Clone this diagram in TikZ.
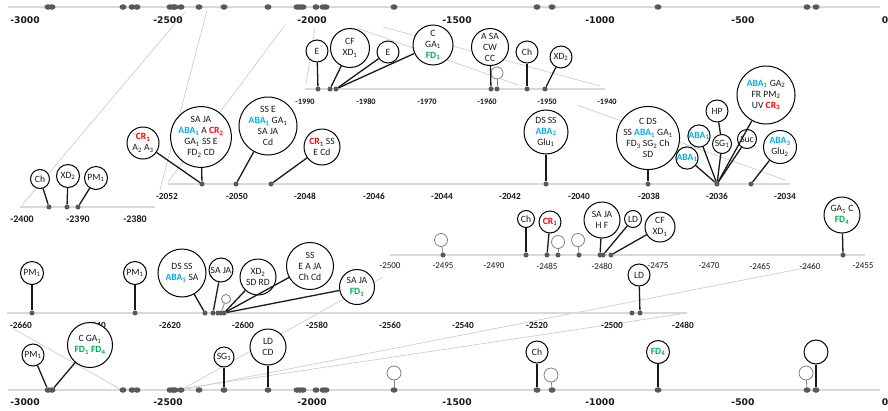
\documentclass[tikz,border=0pt]{standalone}
\usepackage{fontspec}
\setmainfont{Carlito}
\newfontfamily\axfont{DejaVu Sans}
\definecolor{abac}{HTML}{00B0F0}
\definecolor{crc}{HTML}{FF0000}
\definecolor{fdc}{HTML}{00B050}
\definecolor{axc}{HTML}{D9D9D9}
\definecolor{dotc}{HTML}{595959}
\definecolor{zc}{HTML}{C8C8C8}
\newcommand\ls[1]{\textsubscript{#1}}
\newcommand\Ab[1]{\textcolor{abac}{\bfseries ABA\textsubscript{#1}}}
\newcommand\Cr[1]{\textcolor{crc}{\bfseries CR\textsubscript{#1}}}
\newcommand\Fd[1]{\textcolor{fdc}{\bfseries FD\textsubscript{#1}}}
\tikzset{
  bub/.style={circle, draw=black, line width=1pt, fill=white, inner sep=0pt, align=center,
     font=\fontsize{9.6}{11}\selectfont, text=black!90, minimum size=#1*2pt},
  gbub/.style={circle, draw=black!50, line width=0.8pt, fill=white, inner sep=0pt, minimum size=#1*2pt},
  dotn/.style={circle, fill=dotc, inner sep=0pt, minimum size=5pt},
  dotbig/.style={ellipse, fill=dotc, inner sep=0pt, minimum width=7pt, minimum height=5.5pt},
  stem/.style={line width=1.3pt, black!90},
  gstem/.style={line width=0.8pt, black!50},
  axl/.style={draw=axc, line width=1.8pt},
  zl/.style={draw=zc, line width=0.6pt},
  tkA/.style={font=\axfont\fontsize{9.2}{10}\selectfont\bfseries, text=black!90},
  tkB/.style={font=\fontsize{8.3}{10}\selectfont\bfseries, text=black!90},
  tkC/.style={font=\fontsize{10}{12}\selectfont\bfseries, text=black!90},
  tkD/.style={font=\fontsize{9.3}{11}\selectfont\bfseries, text=black!90},
  tkF/.style={font=\fontsize{9}{11}\selectfont, text=black!90},
}
\usetikzlibrary{shapes.geometric}
\begin{document}
\begin{tikzpicture}[x=1pt,y=-1pt]
\fill[white] (0,0) rectangle (888,410);
\useasboundingbox (0,0) rectangle (888,410);
% ---------- zoom lines ----------
\coordinate (zc1a) at (185,12); \coordinate (zc1b) at (22,205);
\coordinate (zc2a) at (207,10); \coordinate (zc2b) at (160,190);
\coordinate (zd1a) at (285,25); \coordinate (zd1b) at (168,182);
\coordinate (zd2a) at (357,28); \coordinate (zd2b) at (518,85);
\coordinate (zd3a) at (577,105); \coordinate (zd3b) at (785,180);
\coordinate (zb1a) at (315,28); \coordinate (zb1b) at (306,84);
\coordinate (zb2a) at (383,27); \coordinate (zb2b) at (600,86);
\coordinate (zg1a) at (12,328); \coordinate (zg1b) at (120,389);
\coordinate (zg2a) at (173,390); \coordinate (zg2b) at (687,313);
\coordinate (zf1a) at (181,390); \coordinate (zf1b) at (383,277);
\coordinate (zf2a) at (181,390); \coordinate (zf2b) at (815,266);
\foreach \n in {zc1,zc2,zd1,zd2,zd3,zb1,zb2,zg1,zg2,zf1,zf2} \draw[zl] (\n a) -- (\n b);
% ---------- axes ----------
\coordinate (axA1) at (8,7);   \coordinate (axA2) at (880,7);
\coordinate (axE1) at (8,390); \coordinate (axE2) at (880,390);
\coordinate (axB1) at (305,89); \coordinate (axB2) at (605,89);
\coordinate (axC1) at (20,207); \coordinate (axC2) at (155,207);
\coordinate (axD1) at (168,184); \coordinate (axD2) at (790,184);
\coordinate (axF1) at (390,255); \coordinate (axF2) at (865,255);
\coordinate (axG1) at (7,313); \coordinate (axG2) at (687,313);
\foreach \n in {A,E,B,C,D,F,G} \draw[axl] (ax\n1) -- (ax\n2);
% ---------- tick labels ----------
\foreach \x/\t in {25/-3000,168/-2500,312/-2000,457/-1500,600/-1000,743/-500,885/0}{
  \node[tkA] (lA\x) at (\x,20) {\t};
  \node[tkA] (lE\x) at (\x,402) {\t};}
\foreach \x/\t in {305/-1990,366/-1980,427/-1970,487/-1960,547/-1950,607/-1940}
  \node[tkB] (lB\x) at (\x,102) {\t};
\foreach \x/\t in {22/-2400,78/-2390,135/-2380}
  \node[tkC] (lC\x) at (\x,219) {\t};
\foreach \x/\t in {167/-2052,237/-2050,305/-2048,374/-2046,442/-2044,510/-2042,579/-2040,649/-2038,717/-2036,785/-2034}
  \node[tkD] (lD\x) at (\x,196) {\t};
\foreach \x/\t in {390/-2500,443/-2495,494/-2490,547/-2485,602/-2480,658/-2475,709/-2470,760/-2465,810/-2460,863/-2455}
  \node[tkF] (lF\x) at (\x,266) {\t};
\foreach \x/\t in {21/-2660,95/-2640,170/-2620,243/-2600,317/-2580,390/-2560,463/-2540,537/-2520,612/-2500,683/-2480}
  \node[tkD] (lG\x) at (\x,325) {\t};
% ---------- dots ----------
\foreach \x in {48,52,123,132,137,170,173,175,181,199,224,268,297,300,303,316,323,326,394,537,552,658,807,816}{
  \node[dotbig] (dA\x) at (\x,7) {};
  \node[dotbig] (dE\x) at (\x,390) {};}
\foreach \x in {318,330,336,491,497,527,545} \node[dotn] (dB\x) at (\x,89) {};
\foreach \x in {49,67,78} \node[dotn] (dC\x) at (\x,207) {};
\foreach \x in {202,236,271,546,648,717,751} \node[dotn] (dD\x) at (\x,184) {};
\foreach \x in {443,526,547,558,579,600,603,611,843} \node[dotn] (dF\x) at (\x,255) {};
\foreach \x in {32,135,205,213,218,221,224,632,640} \node[dotn] (dG\x) at (\x,313) {};
% ---------- panel B ----------
\node[bub=11] (b1) at (317,51) {E};
\node[bub=19.5] (b2) at (350,48) {CF\\XD\ls{1}};
\node[bub=11] (b3) at (388,52) {E};
\node[bub=20] (b4) at (433,45) {C\\GA\ls{1}\\\Fd{1}};
\node[bub=18.5] (b5) at (490,47) {A SA\\CW\\CC};
\node[gbub=6] (b6) at (497,73) {};
\node[bub=11] (b7) at (527,52) {Ch};
\node[bub=11] (b8) at (561,57) {XD\ls{2}};
\draw[stem] (b1) -- (dB318); \draw[stem] (b2) -- (dB330);
\draw[stem] (b3) -- (dB336); \draw[stem] (b4) -- (dB336);
\draw[stem] (b5) -- (dB491); \draw[gstem] (b6) -- (dB497);
\draw[stem] (b7) -- (dB527); \draw[stem] (b8) -- (dB545);
% ---------- panel C ----------
\node[bub=9.5] (c1) at (40,179) {Ch};
\node[bub=11.5] (c2) at (68,176) {XD\ls{2}};
\node[bub=11.5] (c3) at (96,178) {PM\ls{1}};
\draw[stem] (c1) -- (dC49); \draw[stem] (c2) -- (dC67); \draw[stem] (c3) -- (dC78);
% ---------- panel D ----------
\node[bub=16] (d1) at (143,143) {\Cr{1}\\A\ls{2} A\ls{3}};
\node[bub=30] (d2) at (201,137) {SA JA\\\Ab{1} A \Cr{2}\\GA\ls{1} SS E\\FD\ls{2} CD};
\node[bub=29] (d3) at (268,126) {SS E\\\Ab{1} GA\ls{1}\\SA JA\\Cd};
\node[bub=18] (d4) at (322,147) {\Cr{1} SS\\E Cd};
\node[bub=22] (d5) at (546,132) {DS SS\\\Ab{2}\\Glu\ls{1}};
\node[bub=31] (d6) at (648,138) {C DS\\SS \Ab{1} GA\ls{1}\\FD\ls{3} SG\ls{2} Ch\\SD};
\node[bub=11] (d7) at (687,158) {\Ab{1}};
\node[bub=11] (d8) at (699,136) {\Ab{1}};
\node[bub=11] (d9) at (717,111) {HP};
\node[bub=9.5] (d10) at (722,144) {SG\ls{1}};
\node[bub=9.5] (d11) at (747,139) {Suc};
\node[bub=29] (d12) at (766,95) {\Ab{1} GA\ls{2}\\FR PM\ls{2}\\UV \Cr{3}};
\node[bub=16.5] (d13) at (780,147) {\Ab{3}\\Glu\ls{2}};
\draw[stem] (d1) -- (dD202); \draw[stem] (d2) -- (dD202);
\draw[stem] (d3) -- (dD236); \draw[stem] (d4) -- (dD271);
\draw[stem] (d5) -- (dD546); \draw[stem] (d6) -- (dD648);
\draw[stem] (d7) -- (dD717); \draw[stem] (d8) -- (dD717);
\draw[stem] (d9) -- (d10); \draw[stem] (d10) -- (dD717);
\draw[stem] (d11) -- (dD717); \draw[stem] (d12) -- (dD717);
\draw[stem] (d13) -- (dD751);
% ---------- panel F ----------
\node[gbub=6.5] (f1) at (441,240) {};
\node[bub=8.5] (f2) at (526,219) {Ch};
\node[bub=11] (f3) at (550,222) {\Cr{1}};
\node[gbub=6.5] (f4) at (558,242) {};
\node[gbub=6.5] (f5) at (578,240) {};
\node[bub=18] (f6) at (602,220) {SA JA\\H F};
\node[bub=8.5] (f7) at (633,219) {LD};
\node[bub=15] (f8) at (660,227) {CF\\XD\ls{1}};
\node[bub=18] (f9) at (842,215) {GA\ls{1} C\\\Fd{4}};
\draw[gstem] (f1) -- (dF443); \draw[stem] (f2) -- (dF526);
\draw[stem] (f3) -- (dF547); \draw[gstem] (f4) -- (dF558);
\draw[gstem] (f5) -- (dF579); \draw[stem] (f6) -- (dF600);
\draw[stem] (f7) -- (dF603); \draw[stem] (f8) -- (dF611);
\draw[stem] (f9) -- (dF843);
% ---------- panel G ----------
\node[bub=11.5] (g1) at (32,273) {PM\ls{1}};
\node[bub=11.5] (g2) at (135,273) {PM\ls{1}};
\node[bub=24] (g3) at (182,273) {DS SS\\\Ab{1} SA};
\node[bub=12] (g4) at (221,270) {SA JA};
\node[gbub=4.5] (g5) at (226,299) {};
\node[bub=18] (g6) at (258,277) {XD\ls{2}\\SD RD};
\node[bub=23.5] (g7) at (310,266) {SS\\E A JA\\Ch Cd};
\node[bub=17.5] (g8) at (357,287) {SA JA\\\Fd{1}};
\node[bub=11] (g9) at (639,275) {LD};
\draw[stem] (g1) -- (dG32); \draw[stem] (g2) -- (dG135);
\draw[stem] (g3) -- (dG205); \draw[stem] (g4) -- (dG213);
\draw[gstem] (g5) -- (dG221); \draw[stem] (g6) -- (dG224);
\draw[stem] (g7) -- (dG224); \draw[stem] (g8) -- (dG224);
\draw[stem] (g9) -- (dG640);
% ---------- bottom axis E ----------
\node[bub=11] (e1) at (33,355) {PM\ls{1}};
\node[bub=22.5] (e2) at (90,345) {C GA\ls{1}\\\Fd{1} \Fd{4}};
\node[bub=10] (e3) at (224,357) {SG\ls{1}};
\node[bub=18] (e4) at (268,347) {LD\\CD};
\node[gbub=7] (e5) at (394,373) {};
\node[bub=11] (e6) at (537,352) {Ch};
\node[gbub=7] (e7) at (551,375) {};
\node[bub=11.5] (e8) at (658,352) {\Fd{4}};
\node[gbub=7] (e9) at (806,373) {};
\node[bub=12] (e10) at (816,352) {};
\draw[stem] (e1) -- (dE48); \draw[stem] (e2) -- (dE52);
\draw[stem] (e3) -- (dE224); \draw[stem] (e4) -- (dE268);
\draw[gstem] (e5) -- (dE394); \draw[stem] (e6) -- (dE537);
\draw[gstem] (e7) -- (dE552); \draw[stem] (e8) -- (dE658);
\draw[gstem] (e9) -- (dE807); \draw[stem] (e10) -- (dE816);
\end{tikzpicture}
\end{document}
